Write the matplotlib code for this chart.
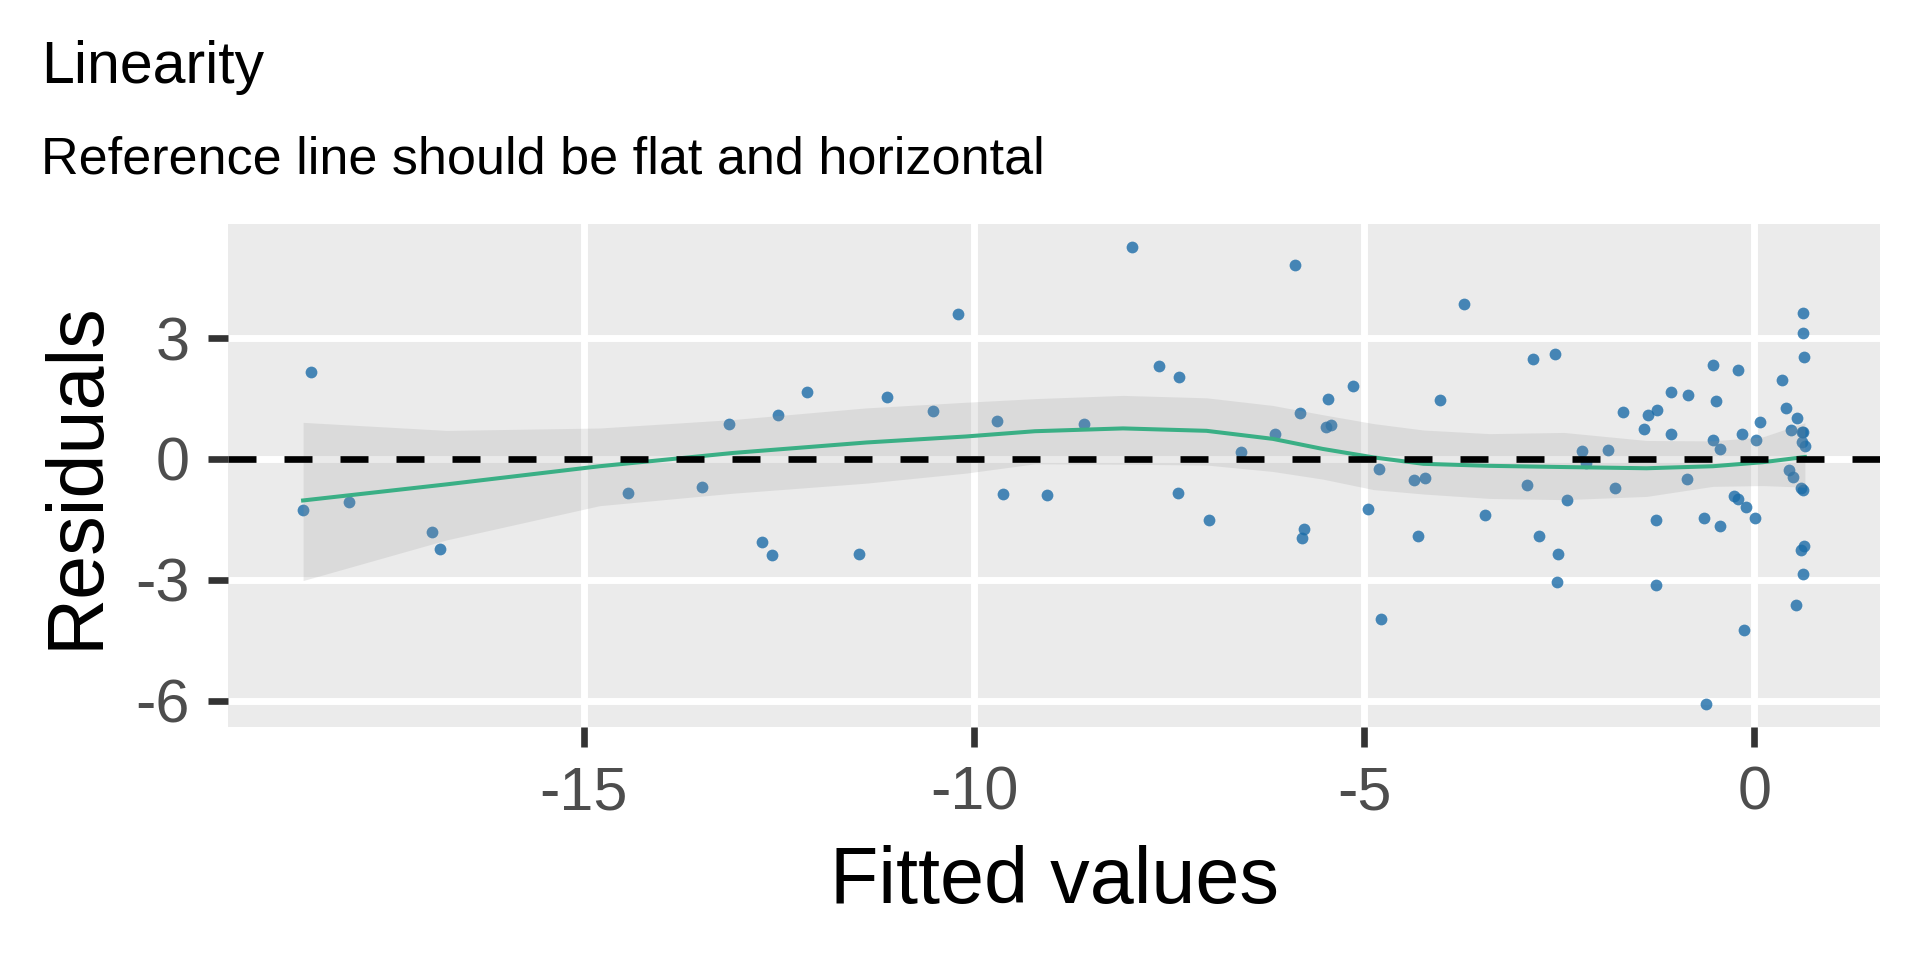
import numpy as np
import matplotlib
matplotlib.use('Agg')
import matplotlib.pyplot as plt

plt.rcParams['font.family'] = ['Liberation Sans', 'DejaVu Sans']
plt.rcParams['axes.unicode_minus'] = False

# ---- data --------------------------------------------------------------------
fitted = [-18.50, -18.60, -18.01, -16.95, -16.85, -14.44,
          -10.21, -13.14, -12.51, -12.14, -11.12, -10.53, -9.71, -13.49,
          -12.72, -12.59, -11.47, -9.63, -9.07,
          -7.97, -5.88, -3.72, -7.63, -7.37, -8.59, -6.58, -6.14, -5.82,
          -5.46, -5.14, -5.49, -5.42, -4.03, -7.38, -6.99, -5.77, -5.79,
          -4.81, -4.95, -4.36, -4.22, -4.31, -4.78, -3.45,
          -2.83, -2.55, -2.21, -2.16, -1.87, -1.68, -1.41, -1.36, -1.24,
          -1.07, -1.07, -0.85, -0.53, -0.21, -0.49, -0.53, -0.44, -0.15,
          0.02, 0.08, 0.36, 0.41, 0.55, 0.47, 0.61, 0.63, 0.61, 0.65,
          0.63, 0.62, 0.64, -2.91, -2.40, -2.76, -2.51, -2.53, -1.78,
          -1.26, -1.26, -0.86, -0.64, -0.44, -0.26, -0.21, -0.10, 0.01,
          -0.13, -0.62, 0.45, 0.50, 0.60, 0.63, 0.64, 0.60, 0.62, 0.53]
resid = [2.16, -1.27, -1.06, -1.82, -2.23, -0.84,
         3.61, 0.87, 1.09, 1.67, 1.54, 1.19, 0.95, -0.70,
         -2.06, -2.39, -2.36, -0.87, -0.90,
         5.27, 4.83, 3.86, 2.31, 2.04, 0.87, 0.17, 0.63, 1.14,
         1.49, 1.82, 0.80, 0.85, 1.47, -0.85, -1.52, -1.73, -1.97,
         -0.25, -1.24, -0.52, -0.47, -1.92, -3.98, -1.39,
         2.49, 2.61, 0.21, -0.10, 0.22, 1.17, 0.75, 1.09, 1.22,
         1.67, 0.62, 1.59, 2.34, 2.21, 1.44, 0.48, 0.26, 0.62,
         0.48, 0.92, 1.97, 1.27, 1.02, 0.73, 0.68, 0.68, 0.43, 0.32,
         3.63, 3.13, 2.54, -0.65, -1.01, -1.92, -2.36, -3.06, -0.72,
         -1.52, -3.13, -0.50, -1.47, -1.67, -0.91, -1.00, -1.19, -1.47,
         -4.25, -6.09, -0.27, -0.45, -0.73, -0.77, -2.16, -2.26, -2.86, -3.63]

# loess fit and its confidence band
smooth_x = [-18.60, -16.76, -14.80, -13.09, -11.38, -10.10, -9.22, -8.09, -7.02,
            -6.17, -5.53, -4.88, -4.24, -3.39, -2.44, -1.38, -0.53, 0.11, 0.65]
smooth_fit = [-1.03, -0.63, -0.18, 0.15, 0.41, 0.56, 0.69, 0.76, 0.70,
              0.50, 0.25, 0.04, -0.12, -0.17, -0.20, -0.23, -0.18, -0.08, 0.05]
smooth_lo = [-3.02, -2.01, -1.16, -0.85, -0.60, -0.35, -0.12, -0.13, -0.15,
             -0.31, -0.50, -0.76, -0.87, -0.98, -1.01, -0.93, -0.68, -0.66, -0.70]
smooth_hi = [0.91, 0.71, 0.77, 0.98, 1.27, 1.41, 1.50, 1.58, 1.52,
             1.33, 1.10, 0.88, 0.72, 0.63, 0.66, 0.46, 0.45, 0.55, 0.90]

x_ticks = [-15, -10, -5, 0]
y_ticks = [-6, -3, 0, 3]

# ---- figure --------------------------------------------------------------------
fig = plt.figure(figsize=(19.2, 9.6), dpi=100)
ax = fig.add_axes([228 / 1920, 1 - 727 / 960, (1880 - 228) / 1920, (727 - 224) / 960])
ax.set_facecolor('#EBEBEB')
for s in ax.spines.values():
    s.set_visible(False)

ax.scatter(fitted, resid, s=72, color='#1b6ca8', alpha=0.8, linewidths=0, zorder=3)
ax.fill_between(smooth_x, smooth_lo, smooth_hi, color='#999999', alpha=0.2,
                linewidth=0, zorder=4)
ax.plot(smooth_x, smooth_fit, color='#3aaf85', lw=2.9, zorder=5)
ax.axhline(0, color='black', lw=4.8, ls=(0, (4.2, 4.2)), zorder=6)

ax.margins(x=0.05, y=0.05)
ax.set_xticks(x_ticks)
ax.set_yticks(y_ticks)
ax.set_xticklabels([str(v) for v in x_ticks])
ax.set_yticklabels([str(v) for v in y_ticks])
ax.grid(True, color='white', lw=5.0, zorder=0)
ax.set_axisbelow(True)
ax.tick_params(axis='both', length=14.4, width=4.8, color='#333333',
               labelcolor='#4D4D4D', labelsize=44, pad=13)

fig.text(0.02125, 1 - 83.3 / 960, 'Linearity', fontsize=42.5, va='baseline', ha='left')
fig.text(0.02125, 1 - 174 / 960, 'Reference line should be flat and horizontal',
         fontsize=37.5, va='baseline', ha='left')
fig.text(0.549, 1 - 903.3 / 960, 'Fitted values', fontsize=57, va='baseline', ha='center')
fig.text(0.0208, 0.505, 'Residuals', fontsize=57, rotation=90, va='center', ha='left')

fig.savefig('out.png', dpi=100)
